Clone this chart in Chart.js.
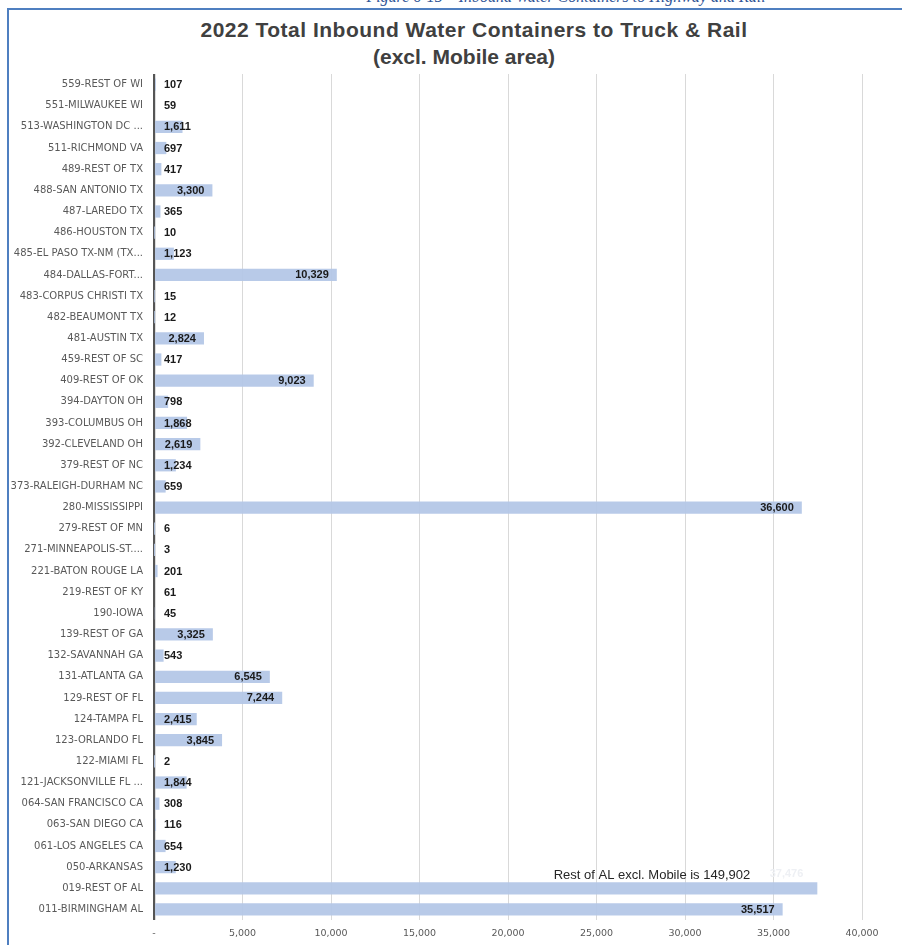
<!DOCTYPE html>
<html>
<head>
<meta charset="utf-8">
<title>2022 Total Inbound Water Containers to Truck & Rail</title>
<script src="https://cdn.jsdelivr.net/npm/chart.js@4.4.1/dist/chart.umd.min.js"></script>
<style>
  html,body{margin:0;padding:0;background:#fff;}
  #wrap{position:relative;width:902px;height:945px;overflow:hidden;background:#fff;}
  #barChart{position:absolute;left:0;top:0;}
  .frameL{position:absolute;left:7px;top:8px;width:2px;height:940px;background:#4f7fc0;}
  .frameT{position:absolute;left:7px;top:8px;width:895px;height:2px;background:#4f7fc0;}
  .caption{position:absolute;left:566px;top:-12px;transform:translateX(-50%);white-space:nowrap;
    font:italic 16px "Liberation Serif",serif;color:#2f5496;}
  .title{position:absolute;transform:translateX(-50%);white-space:nowrap;line-height:27px;
    font:bold 21px "Liberation Sans",Arial,sans-serif;color:#404040;}
</style>
</head>
<body>
<div id="wrap">
  <div class="caption">Figure 6-15 – Inbound Water Containers to Highway and Rail</div>
  <div class="frameT"></div>
  <div class="frameL"></div>
  <div class="title" style="left:474px;top:18px;letter-spacing:0.5px;">2022 Total Inbound Water Containers to Truck &amp; Rail</div>
  <div class="title" style="left:464px;top:45px;">(excl. Mobile area)</div>
  <canvas id="barChart" width="902" height="945"></canvas>
</div>
<script>
// regions, top to bottom as in the figure
const regions = [
  '559-REST OF WI','551-MILWAUKEE WI','513-WASHINGTON DC ...','511-RICHMOND VA','489-REST OF TX',
  '488-SAN ANTONIO TX','487-LAREDO TX','486-HOUSTON TX','485-EL PASO TX-NM (TX...','484-DALLAS-FORT...',
  '483-CORPUS CHRISTI TX','482-BEAUMONT TX','481-AUSTIN TX','459-REST OF SC','409-REST OF OK',
  '394-DAYTON OH','393-COLUMBUS OH','392-CLEVELAND OH','379-REST OF NC','373-RALEIGH-DURHAM NC',
  '280-MISSISSIPPI','279-REST OF MN','271-MINNEAPOLIS-ST....','221-BATON ROUGE LA','219-REST OF KY',
  '190-IOWA','139-REST OF GA','132-SAVANNAH GA','131-ATLANTA GA','129-REST OF FL',
  '124-TAMPA FL','123-ORLANDO FL','122-MIAMI FL','121-JACKSONVILLE FL ...','064-SAN FRANCISCO CA',
  '063-SAN DIEGO CA','061-LOS ANGELES CA','050-ARKANSAS','019-REST OF AL','011-BIRMINGHAM AL'
];
const containers = [
  107,59,1611,697,417,
  3300,365,10,1123,10329,
  15,12,2824,417,9023,
  798,1868,2619,1234,659,
  36600,6,3,201,61,
  45,3325,543,6545,7244,
  2415,3845,2,1844,308,
  116,654,1230,37476,35517
];
const xTicks = [0,5000,10000,15000,20000,25000,30000,35000,40000];
const noteText = 'Rest of AL excl. Mobile is 149,902';
const faintRegion = '019-REST OF AL'; // its value label is nearly invisible in the figure

function fmt(v){ return v===0 ? '-' : v.toLocaleString('en-US'); }

// value labels: inside end, but never left of the axis gap
const valueLabels = {
  id:'valueLabels',
  afterDatasetsDraw(chart){
    const ctx = chart.ctx, meta = chart.getDatasetMeta(0);
    const minX = chart.chartArea.left + 10;
    ctx.save();
    ctx.font = 'bold 11px "Liberation Sans", Arial, sans-serif';
    ctx.textBaseline = 'middle';
    ctx.textAlign = 'left';
    meta.data.forEach((bar,i)=>{
      const txt = fmt(containers[i]);
      const w = ctx.measureText(txt).width;
      if(regions[i]===faintRegion){
        ctx.fillStyle = '#eef0f4';
        ctx.fillText(txt, bar.x - 14 - w, bar.y - 14);
        return;
      }
      ctx.fillStyle = '#1a1a1a';
      ctx.fillText(txt, Math.max(bar.x - 8 - w, minX), bar.y + 0.5);
    });
    // annotation above the Rest of AL bar
    const idx = regions.indexOf(faintRegion);
    const ref = meta.data[idx];
    ctx.font = '13px "Liberation Sans", Arial, sans-serif';
    ctx.fillStyle = '#262626';
    ctx.fillText(noteText, chart.scales.x.getPixelForValue(22580), ref.y - 13);
    ctx.restore();
  }
};

function renderBars(){
  const ctx = document.getElementById('barChart').getContext('2d');
  new Chart(ctx,{
    type:'bar',
    data:{labels:regions, datasets:[{label:'Containers', data:containers,
      backgroundColor:'rgba(180,199,231,0.95)', borderWidth:0,
      barPercentage:0.58, categoryPercentage:1}]},
    options:{
      indexAxis:'y', responsive:false, animation:false,
      layout:{padding:{left:0,right:40,top:74,bottom:0}},
      plugins:{legend:{display:false}, tooltip:{enabled:false}},
      scales:{
        x:{
          min:0, max:40000, z:1,
          afterBuildTicks(s){ s.ticks = xTicks.map(v=>({value:v})); },
          afterFit(s){ s.height = 25; },
          border:{display:false},
          grid:{drawTicks:false,
            color:c=>c.tick && c.tick.value===0 ? '#555555' : '#d9d9d9',
            lineWidth:c=>c.tick && c.tick.value===0 ? 2.2 : 1},
          ticks:{padding:8, color:'#595959', maxRotation:0,
            font:{family:'"DejaVu Sans", sans-serif', size:9.5},
            callback:v=>fmt(v)}
        },
        y:{
          afterFit(s){ s.width = 154; },
          border:{display:false},
          grid:{display:false, drawTicks:false},
          ticks:{padding:11, color:'#595959', autoSkip:false,
            font:{family:'"DejaVu Sans", sans-serif', size:10}}
        }
      }
    },
    plugins:[valueLabels]
  });
}

window.addEventListener('DOMContentLoaded', renderBars);
</script>
</body>
</html>
